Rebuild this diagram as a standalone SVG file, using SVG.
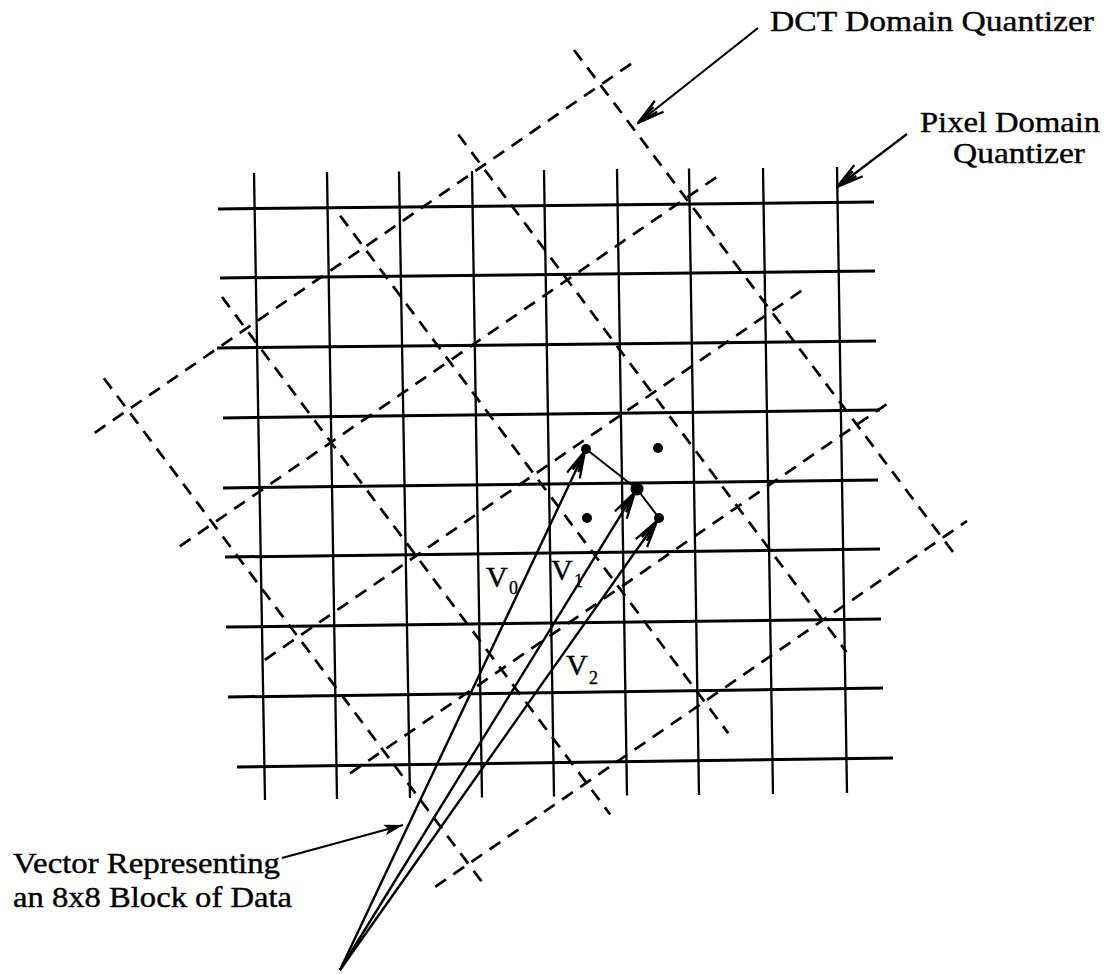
<svg xmlns="http://www.w3.org/2000/svg" width="1110" height="974" viewBox="0 0 1110 974">
<style>
.bg{fill:#fff}
.h{stroke:#000;stroke-width:3;fill:none;stroke-linecap:butt}
.v{stroke:#000;stroke-width:2.3;fill:none}
.d{stroke:#000;stroke-width:2.7;fill:none;stroke-dasharray:13 9}
.vec{stroke:#000;stroke-width:2.4;fill:none}
.thin{stroke:#000;stroke-width:2;fill:none}
.lbl{stroke:#000;stroke-width:2.2;fill:none}
.t{font-family:"Liberation Serif","Times New Roman",serif;font-size:30px;fill:#000;stroke:#000;stroke-width:0.4}
.sub{font-family:"Liberation Serif","Times New Roman",serif;font-size:18px;fill:#000;stroke:#000;stroke-width:0.3}
</style>
<defs>
<marker id="barb" markerUnits="userSpaceOnUse" orient="auto" overflow="visible" markerWidth="1" markerHeight="1" refX="0" refY="0">
<path d="M-27,-7 L0,0 L-27,7 M-22,-3 L0,0 L-22,3" fill="none" stroke="#000" stroke-width="2.3" stroke-linejoin="round"/>
</marker>
<marker id="solid" markerUnits="userSpaceOnUse" orient="auto" overflow="visible" markerWidth="1" markerHeight="1" refX="0" refY="0">
<path d="M-19,-5.5 L0,0 L-19,5.5 L-15,0 z" fill="#000"/>
</marker>
</defs>
<rect class="bg" x="0" y="0" width="1110" height="974"/>

<g id="pixel-grid">
<line class="h" x1="218" y1="209" x2="874" y2="202"/>
<line class="h" x1="220" y1="278" x2="875" y2="271"/>
<line class="h" x1="217" y1="348" x2="876" y2="341"/>
<line class="h" x1="223" y1="418" x2="880" y2="410"/>
<line class="h" x1="223" y1="488" x2="878" y2="480"/>
<line class="h" x1="225" y1="557" x2="880" y2="549"/>
<line class="h" x1="226" y1="627" x2="881" y2="619"/>
<line class="h" x1="228" y1="697" x2="883" y2="688"/>
<line class="h" x1="237" y1="767" x2="893" y2="758"/>
<line class="v" x1="254" y1="173" x2="265" y2="800"/>
<line class="v" x1="327" y1="172" x2="337" y2="799"/>
<line class="v" x1="399" y1="171.5" x2="410" y2="798"/>
<line class="v" x1="472" y1="171" x2="482" y2="797.5"/>
<line class="v" x1="544" y1="170" x2="554" y2="796.5"/>
<line class="v" x1="617" y1="169" x2="627" y2="795.5"/>
<line class="v" x1="689" y1="168.5" x2="699" y2="795"/>
<line class="v" x1="763" y1="168" x2="773" y2="794"/>
<line class="v" x1="837" y1="167" x2="847" y2="793"/>
</g>

<g id="dct-grid">
<line class="d" x1="94.7" y1="432.8" x2="633.3" y2="62.3"/>
<line class="d" x1="179.8" y1="546.3" x2="718.5" y2="175.8"/>
<line class="d" x1="264.9" y1="659.8" x2="803.6" y2="289.3"/>
<line class="d" x1="350.1" y1="773.3" x2="888.7" y2="402.8"/>
<line class="d" x1="435.2" y1="886.8" x2="967" y2="521"/>
<line class="d" x1="103.9" y1="378.2" x2="485" y2="886"/>
<line class="d" x1="222" y1="297" x2="610.2" y2="814.5"/>
<line class="d" x1="340.2" y1="215.7" x2="728.3" y2="733.3"/>
<line class="d" x1="458.3" y1="134.5" x2="846.5" y2="652"/>
<line class="d" x1="574" y1="50" x2="956" y2="556"/>
</g>

<g id="points">
<circle cx="586" cy="449" r="5"/>
<circle cx="658" cy="448" r="5"/>
<circle cx="587" cy="518" r="5"/>
<circle cx="659" cy="518" r="5"/>
<circle cx="637" cy="489" r="6.5"/>
</g>

<g id="connectors">
<line class="thin" x1="586" y1="449" x2="637" y2="489"/>
<line class="thin" x1="637" y1="489" x2="659" y2="518"/>
<line class="vec" x1="340" y1="970" x2="585" y2="451" marker-end="url(#barb)"/>
<line class="vec" x1="340" y1="970" x2="635" y2="492" marker-end="url(#barb)"/>
<line class="vec" x1="340" y1="970" x2="657" y2="521" marker-end="url(#barb)"/>
<line class="lbl" x1="758" y1="28" x2="638" y2="123" marker-end="url(#barb)"/>
<line class="lbl" x1="907" y1="134" x2="837" y2="187" marker-end="url(#barb)"/>
<line class="lbl" x1="282" y1="858" x2="403" y2="825" marker-end="url(#solid)"/>
</g>

<g id="label-dct">
<text class="t" x="770" y="31" textLength="324" lengthAdjust="spacingAndGlyphs">DCT Domain Quantizer</text>
</g>
<g id="label-pixel">
<text class="t" x="920" y="132" textLength="180" lengthAdjust="spacingAndGlyphs">Pixel Domain</text>
<text class="t" x="953" y="163" textLength="132" lengthAdjust="spacingAndGlyphs">Quantizer</text>
</g>
<g id="label-vector">
<text class="t" x="13" y="873" textLength="267" lengthAdjust="spacingAndGlyphs">Vector Representing</text>
<text class="t" x="13" y="907" textLength="279" lengthAdjust="spacingAndGlyphs">an 8x8 Block of Data</text>
</g>
<g id="label-v0">
<text class="t" x="486" y="587">V</text>
<text class="sub" x="509" y="594">0</text>
</g>
<g id="label-v1">
<text class="t" x="551" y="580">V</text>
<text class="sub" x="574" y="587">1</text>
</g>
<g id="label-v2">
<text class="t" x="566" y="675">V</text>
<text class="sub" x="589" y="684">2</text>
</g>
</svg>
